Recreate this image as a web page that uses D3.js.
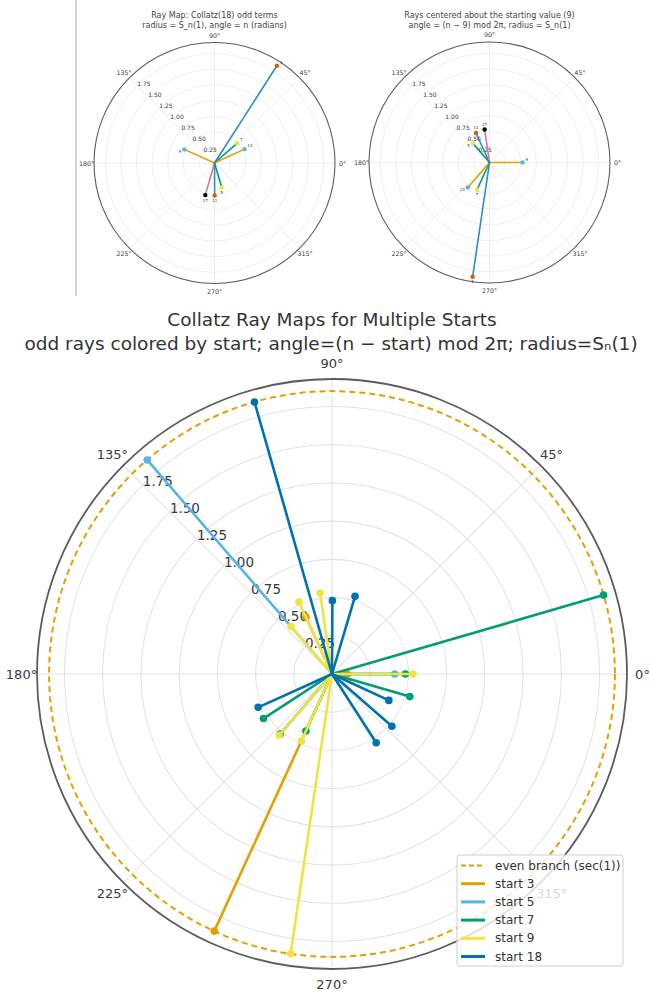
<!DOCTYPE html>
<html>
<head>
<meta charset="utf-8">
<script src="https://cdn.jsdelivr.net/npm/d3@7"></script>
<style>
  body { margin: 0; background: #fff; }
  svg { display: block; font-family: "DejaVu Sans", sans-serif; }
</style>
</head>
<body>
<svg id="chart" width="650" height="996"></svg>
<script>
// ---- data -------------------------------------------------------------
// Odd terms of the Collatz orbit of 18 and their ray lengths S_n(1)
const oddTerms = [9, 7, 11, 17, 13, 5, 1];
const oddRadius = [0.53, 0.48, 0.52, 0.535, 0.53, 0.41, 1.85];
// Panel A: angle = n (radians), shown in degrees
const panelAAngle = [155.7, 41.1, 270.3, 254.0, 24.8, 286.5, 57.3];
// Panel B: angle = (n - 9) mod 2pi, in degrees
const panelBAngle = [0, 245.4, 114.6, 98.4, 229.2, 130.8, 261.6];
// Line / marker colours of each ray in the two small panels
const rayLineColor = ["#E69F00", "#009E73", "#2a8ccc", "#CC79A7", "#E69F00", "#009E73", "#2a8ccc"];
const rayMarkColor = ["#56B4E9", "#F0E442", "#D55E00", "#000000", "#56B4E9", "#F0E442", "#D55E00"];

// Multi-start panel
const starts = [3, 5, 7, 9, 18];
const startColors = ["#E69F00", "#56B4E9", "#009E73", "#F0E442", "#0072B2"];
const start3Angle = [0, 114.6, 245.4];
const start3Radius = [0.10, 0.41, 1.85];
const start5Angle = [0, 130.8];
const start5Radius = [0.41, 1.85];
const start7Angle = [0, 229.2, 213.0, 343.8, 245.4, 16.2];
const start7Radius = [0.48, 0.52, 0.535, 0.53, 0.41, 1.85];
const start9Angle = [0, 245.4, 114.6, 98.4, 229.2, 130.8, 261.6];
const start9Radius = [0.53, 0.48, 0.52, 0.535, 0.53, 0.41, 1.85];
const start18Angle = [204.3, 89.7, 318.9, 302.7, 73.5, 335.1, 105.9];
const start18Radius = [0.53, 0.48, 0.52, 0.535, 0.53, 0.41, 1.85];
const evenBranchRadius = 1.8508; // sec(1)

// Axis ticks
const radialTicks = [0.25, 0.50, 0.75, 1.00, 1.25, 1.50, 1.75];
const thetaTicks = [0, 45, 90, 135, 180, 225, 270, 315];
const radialMax = 1.93;

// ---- drawing ------------------------------------------------------------
const svg = d3.select("#chart");

// theta in degrees (counter-clockwise from east) -> d3 radial angle
const thetaScale = d3.scaleLinear().domain([0, 360]).range([Math.PI / 2, Math.PI / 2 - 2 * Math.PI]);

function polarFrame(cx, cy, R, o) {
  const g = svg.append("g").attr("transform", `translate(${cx},${cy})`);
  const r = d3.scaleLinear().domain([0, radialMax]).range([0, R]);
  const grid = g.append("g");
  grid.selectAll("circle.grid").data(radialTicks).join("circle")
    .attr("r", d => r(d)).attr("fill", "none")
    .attr("stroke", "#e4e4e4").attr("stroke-width", o.gridW);
  grid.selectAll("line.spoke").data(thetaTicks).join("line")
    .attr("x1", 0).attr("y1", 0)
    .attr("x2", d => d3.pointRadial(thetaScale(d), R)[0])
    .attr("y2", d => d3.pointRadial(thetaScale(d), R)[1])
    .attr("stroke", "#e4e4e4").attr("stroke-width", o.gridW);
  g.append("circle").attr("r", R).attr("fill", "none")
    .attr("stroke", "#5c5c5c").attr("stroke-width", o.frameW);
  // angle labels
  g.selectAll("text.theta").data(thetaTicks).join("text")
    .attr("x", d => d3.pointRadial(thetaScale(d), R + o.pad)[0])
    .attr("y", d => d3.pointRadial(thetaScale(d), R + o.pad)[1])
    .attr("text-anchor", "middle").attr("dominant-baseline", "central")
    .attr("font-size", o.thetaFont).attr("fill", "#3a3a3a")
    .text(d => d + "°");
  // radial labels along 135 deg, left/bottom aligned
  g.selectAll("text.rad").data(radialTicks).join("text")
    .attr("x", d => d3.pointRadial(thetaScale(135), r(d))[0])
    .attr("y", d => d3.pointRadial(thetaScale(135), r(d))[1] + o.radDy)
    .attr("font-size", o.radFont).attr("fill", "#3a3a3a")
    .text(d => d3.format(".2f")(d));
  return { g, r };
}

function rays(frame, angles, radii, lineColors, markColors, lw, mr) {
  const { g, r } = frame;
  const line = d3.lineRadial().angle(d => thetaScale(d[0])).radius(d => r(d[1]));
  const rows = angles.map((a, i) => ({ a, rad: radii[i], lc: lineColors[i], mc: markColors[i] }));
  const layer = g.append("g");
  rows.forEach(d => {
    layer.append("path").attr("d", line([[d.a, 0], [d.a, d.rad]]))
      .attr("stroke", d.lc).attr("stroke-width", lw).attr("fill", "none")
      .attr("stroke-linecap", "round");
  });
  rows.forEach(d => {
    const p = d3.pointRadial(thetaScale(d.a), r(d.rad));
    layer.append("circle").attr("cx", p[0]).attr("cy", p[1]).attr("r", mr).attr("fill", d.mc);
  });
  return rows;
}

// tiny value tags beside each ray tip: above/below the tip for near-vertical rays,
// otherwise to the right or left of it
function smallLabels(frame, angles, radii) {
  const { g, r } = frame;
  angles.forEach((a, i) => {
    const p = d3.pointRadial(thetaScale(a), r(radii[i]));
    const c = Math.cos(a * Math.PI / 180), s = Math.sin(a * Math.PI / 180);
    let x, y, anchor;
    if (Math.abs(c) < 0.5) {
      x = p[0]; y = s > 0 ? p[1] - 3.5 : p[1] + 6.5; anchor = "middle";
    } else if (c < 0) {
      x = p[0] - 3; y = p[1] + 3.5; anchor = "end";
    } else {
      x = p[0] + 3; y = p[1] - 2; anchor = "start";
    }
    g.append("text").attr("x", x).attr("y", y).attr("text-anchor", anchor)
      .attr("font-size", 4).attr("fill", "#333").text(oddTerms[i]);
  });
}

// separator on the left of the top row
svg.append("line").attr("x1", 76).attr("x2", 76).attr("y1", 0).attr("y2", 296)
  .attr("stroke", "#c4c4c4").attr("stroke-width", 1.5);

const smallOpts = { gridW: 0.6, frameW: 1.1, pad: 7.5, thetaFont: 6.3, radFont: 6, radDy: 0.5 };

// Panel A
const fa = polarFrame(214.5, 163, 120.5, smallOpts);
rays(fa, panelAAngle, oddRadius, rayLineColor, rayMarkColor, 1.6, 2.2);
smallLabels(fa, panelAAngle, oddRadius);
svg.append("text").attr("x", 214.5).attr("y", 18).attr("text-anchor", "middle")
  .attr("font-size", 8).attr("fill", "#444").text("Ray Map: Collatz(18) odd terms");
svg.append("text").attr("x", 214.5).attr("y", 27.5).attr("text-anchor", "middle")
  .attr("font-size", 8).attr("fill", "#444").text("radius = S_n(1), angle = n (radians)");

// Panel B
const fb = polarFrame(489.5, 162.5, 120.5, smallOpts);
rays(fb, panelBAngle, oddRadius, rayLineColor, rayMarkColor, 1.6, 2.2);
smallLabels(fb, panelBAngle, oddRadius);
svg.append("text").attr("x", 489.5).attr("y", 18).attr("text-anchor", "middle")
  .attr("font-size", 8).attr("fill", "#444").text("Rays centered about the starting value (9)");
svg.append("text").attr("x", 489.5).attr("y", 27.5).attr("text-anchor", "middle")
  .attr("font-size", 8).attr("fill", "#444").text("angle = (n − 9) mod 2π, radius = S_n(1)");

// Multi-start panel
const bigOpts = { gridW: 1.1, frameW: 1.8, pad: 15.5, thetaFont: 13, radFont: 13.5, radDy: 1 };
const fc = polarFrame(332, 674, 295, bigOpts);
fc.g.append("circle").attr("r", fc.r(evenBranchRadius)).attr("fill", "none")
  .attr("stroke", "#E69F00").attr("stroke-width", 2).attr("stroke-dasharray", "6,4");

const startAngles = [start3Angle, start5Angle, start7Angle, start9Angle, start18Angle];
const startRadii = [start3Radius, start5Radius, start7Radius, start9Radius, start18Radius];
starts.forEach((s, k) => {
  const col = startAngles[k].map(() => startColors[k]);
  rays(fc, startAngles[k], startRadii[k], col, col, 2.6, 3.8);
});

svg.append("text").attr("x", 332).attr("y", 326).attr("text-anchor", "middle")
  .attr("font-size", 18.5).attr("fill", "#333").text("Collatz Ray Maps for Multiple Starts");
svg.append("text").attr("x", 331).attr("y", 349.5).attr("text-anchor", "middle")
  .attr("font-size", 18.5).attr("fill", "#333")
  .text("odd rays colored by start; angle=(n − start) mod 2π; radius=Sₙ(1)");

// legend
const lg = svg.append("g").attr("transform", "translate(457,855)");
lg.append("rect").attr("width", 166).attr("height", 111).attr("rx", 3)
  .attr("fill", "#fff").attr("fill-opacity", 0.8).attr("stroke", "#d0d0d0");
const legendItems = [{ label: "even branch (sec(1))", color: "#E69F00", dash: "5,3" }]
  .concat(starts.map((s, k) => ({ label: "start " + s, color: startColors[k], dash: null })));
legendItems.forEach((d, i) => {
  const y = 10.5 + i * 18.2;
  lg.append("line").attr("x1", 4).attr("x2", 28).attr("y1", y).attr("y2", y)
    .attr("stroke", d.color).attr("stroke-width", d.dash ? 2 : 3)
    .attr("stroke-dasharray", d.dash);
  lg.append("text").attr("x", 38).attr("y", y).attr("dominant-baseline", "central")
    .attr("font-size", 12).attr("fill", "#333").text(d.label);
});
</script>
</body>
</html>
